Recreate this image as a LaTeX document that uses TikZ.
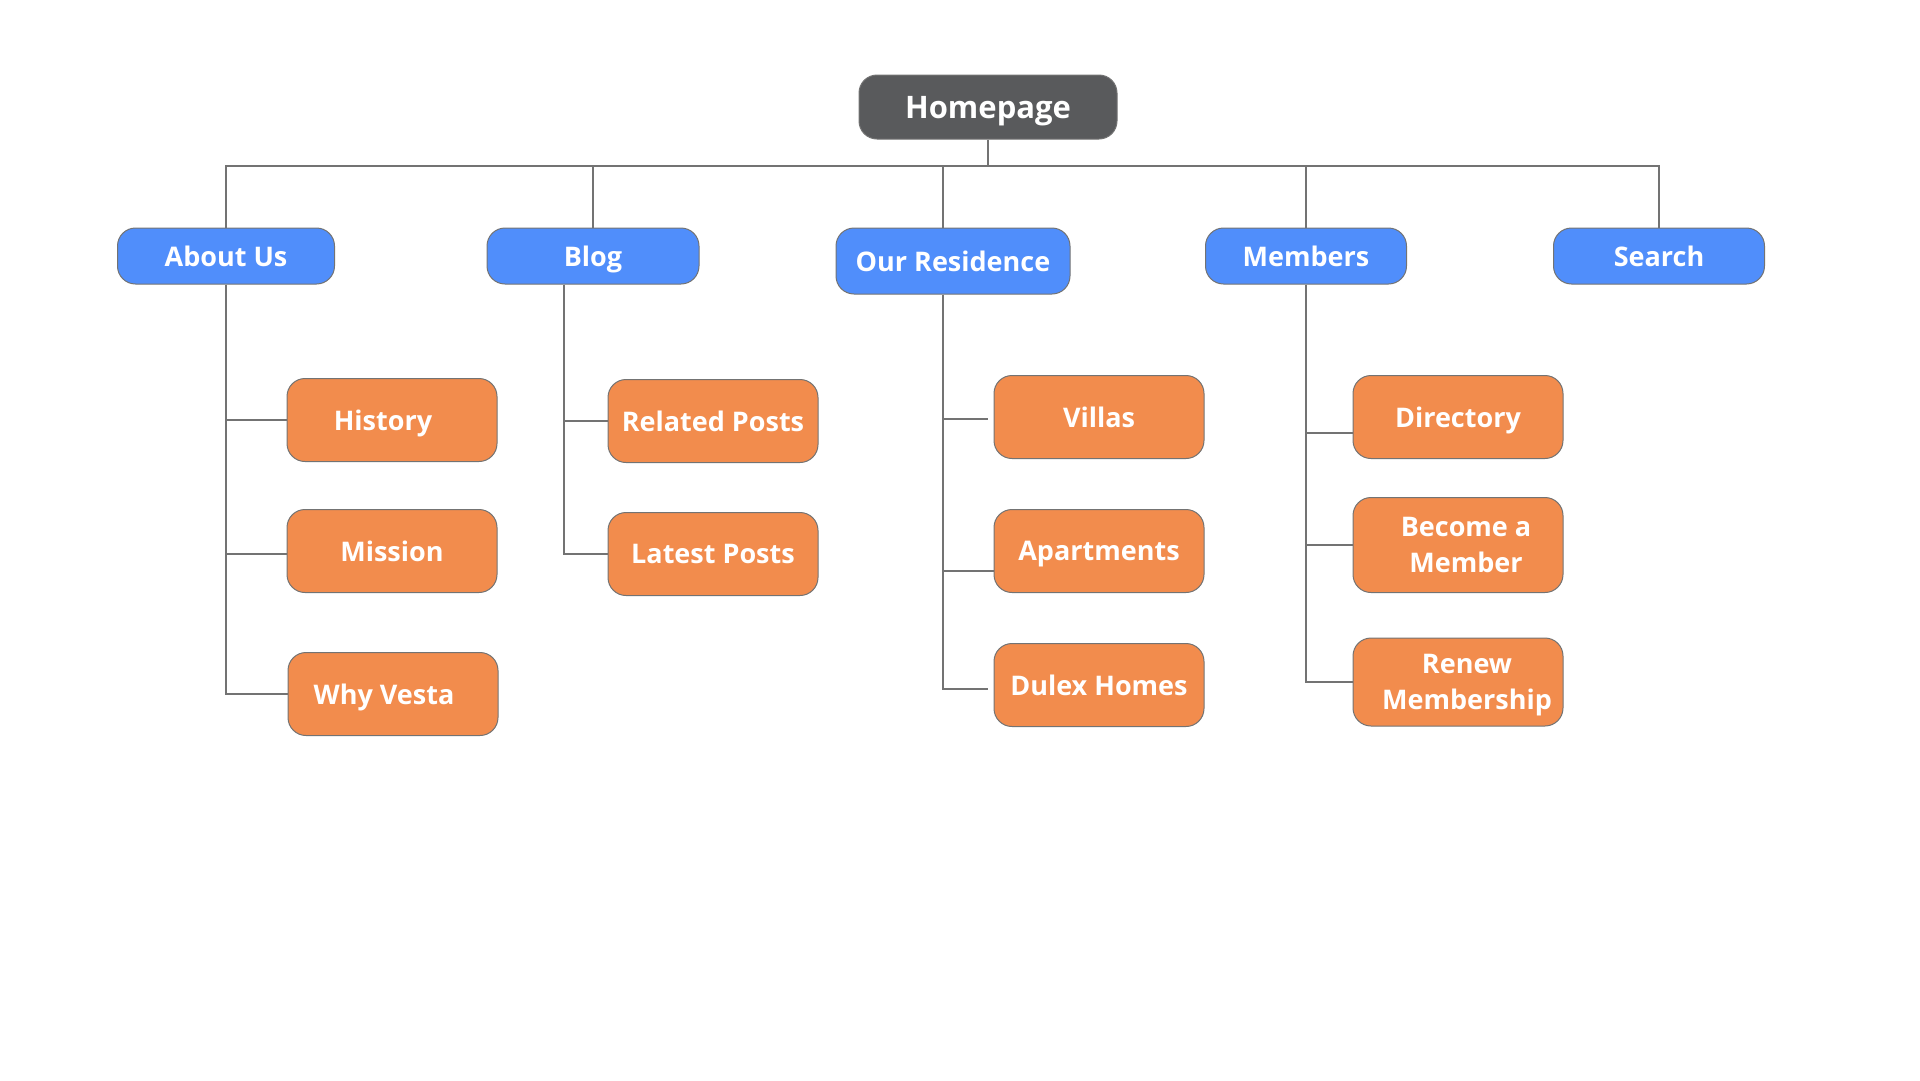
\documentclass[tikz,border=0pt]{standalone}
\usepackage{fontspec}
\setmainfont{Open Sans}
\usetikzlibrary{positioning}
\definecolor{homegray}{HTML}{595A5C}
\definecolor{secblue}{HTML}{508EFB}
\definecolor{leaforange}{HTML}{F28C4D}
\definecolor{edgegray}{HTML}{737373}
\tikzset{box/.style={draw=edgegray, line width=1pt, rounded corners=18pt,
         text=white, font=\bfseries\fontsize{27}{36}\selectfont,
         align=center, inner sep=0pt, text depth=0pt},
         home/.style={box, fill=homegray, minimum width=258, minimum height=64,
         font=\bfseries\fontsize{31}{36}\selectfont},
         sec/.style={box, fill=secblue, minimum height=56},
         leaf/.style={box, fill=leaforange, minimum width=210, minimum height=83},
         link/.style={draw=edgegray, line width=1.3pt}}

\begin{document}
\begin{tikzpicture}[x=1pt, y=-1pt]
  \useasboundingbox (0,0) rectangle (1920,1080);
  \node[home] (home) at (988,107) {Homepage};
  \node[sec, minimum width=217] (about) at (226,256) {About Us};
  \node[sec, minimum width=212] (blog) at (593,256) {Blog};
  \node[sec, minimum width=234, minimum height=66] (res) at (953,261) {Our Residence};
  \node[sec, minimum width=201] (members) at (1306,256) {Members};
  \node[sec, minimum width=211] (search) at (1659,256) {Search};
  \coordinate (bus) at (988,166);
  \draw[link] (home.south) -- (bus);
  \draw[link] (about.north) |- (bus) -| (search.north);
  \draw[link] (blog.north) -- (blog.north |- bus);
  \draw[link] ([xshift=-10]res.north) -- ([xshift=-10]res.north |- bus);
  \draw[link] (members.north) -- (members.north |- bus);
  % about us
  \node[leaf] (history) at (392,420) {History\hspace*{18pt}};
  \node[leaf] (mission) at (392,551) {Mission};
  \node[leaf] (vesta) at (393,694) {Why Vesta\hspace*{18pt}};
  \draw[link] (about.south) |- (history.west);
  \draw[link] (about.south) |- ([yshift=-3]mission.west);
  \draw[link] (about.south) |- (vesta.west);
  % blog
  \node[leaf] (related) at (713,421) {Related Posts};
  \node[leaf] (latest) at (713,554) {Latest Posts};
  \foreach \n in {related,latest}
    \draw[link] ([xshift=-29]blog.south) |- (\n.west);
  % our residence
  \node[leaf] (villas) at (1099,417) {Villas};
  \node[leaf] (apart) at (1099,551) {Apartments};
  \node[leaf] (dulex) at (1099,685) {Dulex Homes};
  \draw[link] ([xshift=-10]res.south) |- ([xshift=-6,yshift=-2]villas.west);
  \draw[link] ([xshift=-10]res.south) |- ([yshift=-20]apart.west);
  \draw[link] ([xshift=-10]res.south) |- ([xshift=-6,yshift=-4]dulex.west);
  % members
  \node[leaf] (directory) at (1458,417) {Directory};
  \node[leaf, minimum height=95] (become) at (1458,545) {\hspace*{16pt}Become a\\ \hspace*{16pt}Member};
  \node[leaf, minimum height=88] (renew) at (1458,682) {\hspace*{18pt}Renew\\ \hspace*{18pt}Membership};
  \draw[link] (members.south) |- ([yshift=-16]directory.west);
  \draw[link] (members.south) |- (become.west);
  \draw[link] (members.south) |- (renew.west);
\end{tikzpicture}
\end{document}
